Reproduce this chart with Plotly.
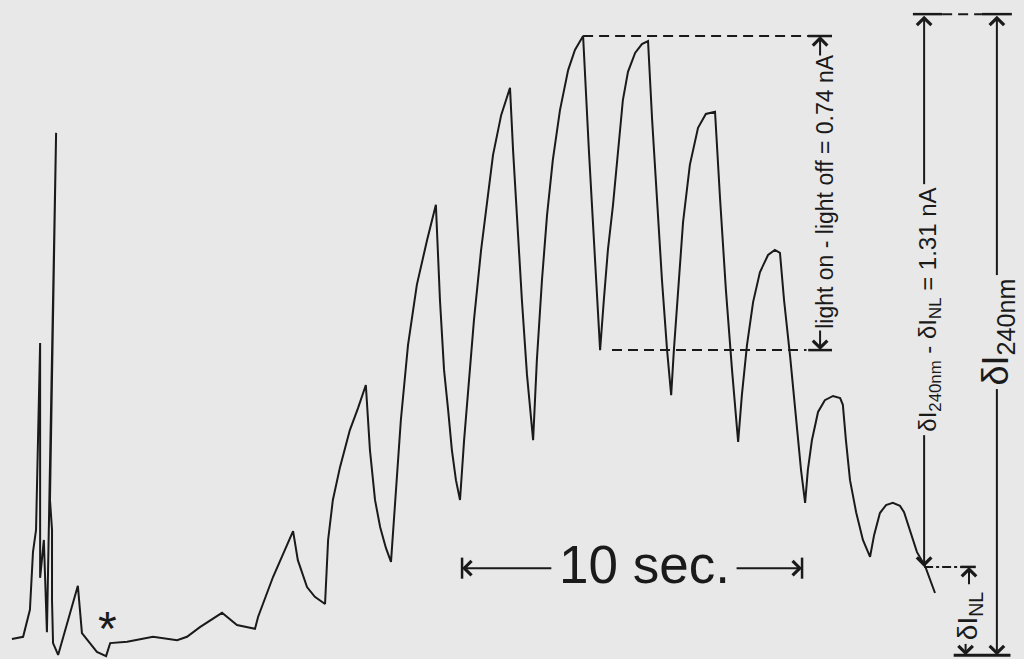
import plotly.graph_objects as go

# ---- trace: time (s) and current (nA) ----
time_s = [
    0.35, 0.68, 0.88, 0.97, 1.06, 1.18, 1.18, 1.29, 1.38, 1.65,
    1.47, 1.53, 1.53, 1.56, 1.71, 2.29, 2.41, 2.85, 3.12, 3.24,
    3.74, 4.50, 5.21, 5.50, 5.88, 6.53, 6.97, 7.50, 7.59, 8.03,
    8.62, 8.76, 9.03, 9.26, 9.56, 9.65, 9.79, 10.00, 10.29, 10.53,
    10.76, 10.88, 11.03, 11.18, 11.35, 11.50, 11.65, 11.79, 12.00, 12.26,
    12.56, 12.82, 12.94, 13.06, 13.18, 13.29, 13.41, 13.53, 13.65, 13.76,
    13.94, 14.15, 14.50, 14.74, 15.00, 15.09, 15.21, 15.35, 15.50, 15.68,
    15.79, 15.94, 16.09, 16.26, 16.47, 16.71, 16.91, 17.15, 17.32, 17.50,
    17.65, 17.76, 17.88, 18.03, 18.18, 18.32, 18.47, 18.68, 18.88, 19.06,
    19.18, 19.32, 19.47, 19.62, 19.74, 19.82, 19.94, 20.09, 20.29, 20.53,
    20.76, 21.03, 21.18, 21.35, 21.53, 21.71, 21.82, 21.97, 22.15, 22.35,
    22.59, 22.79, 22.94, 23.06, 23.24, 23.41, 23.56, 23.68, 23.76, 23.88,
    24.06, 24.26, 24.50, 24.71, 24.79, 24.88, 25.00, 25.18, 25.38, 25.59,
    25.71, 25.88, 26.06, 26.26, 26.47, 26.59, 26.76, 26.97, 27.21, 27.50,
]
current_nA = [
    0.043, 0.048, 0.112, 0.249, 0.302, 0.746, 0.188, 0.278, 0.059, 1.245,
    0.373, 0.302, 0.135, 0.033, 0.005, 0.169, 0.057, 0.012, 0.002, 0.033,
    0.036, 0.048, 0.040, 0.048, 0.071, 0.105, 0.076, 0.067, 0.095, 0.190,
    0.299, 0.230, 0.166, 0.143, 0.126, 0.278, 0.373, 0.451, 0.539, 0.591,
    0.646, 0.492, 0.373, 0.309, 0.259, 0.226, 0.397, 0.563, 0.741, 0.884,
    0.990, 1.074, 0.848, 0.682, 0.587, 0.492, 0.420, 0.373, 0.515, 0.622,
    0.800, 0.967, 1.192, 1.287, 1.352, 1.204, 1.038, 0.848, 0.670, 0.515,
    0.705, 0.895, 1.050, 1.181, 1.299, 1.394, 1.442, 1.475, 1.204, 0.943,
    0.729, 0.848, 0.967, 1.074, 1.204, 1.323, 1.390, 1.435, 1.456, 1.463,
    1.276, 1.086, 0.895, 0.729, 0.622, 0.729, 0.872, 1.033, 1.169, 1.257,
    1.290, 1.295, 1.086, 0.872, 0.682, 0.511, 0.622, 0.741, 0.843, 0.914,
    0.955, 0.967, 0.960, 0.848, 0.713, 0.563, 0.444, 0.366, 0.444, 0.515,
    0.582, 0.610, 0.620, 0.615, 0.599, 0.515, 0.420, 0.344, 0.278, 0.238,
    0.290, 0.342, 0.361, 0.366, 0.359, 0.344, 0.302, 0.249, 0.216, 0.152,
]

# ---- annotation levels / positions (data units) ----
I_light_on = 1.475      # highest light-on current
I_light_off = 0.729     # following light-off current
I_240_top = 1.527       # top of the delta-I 240nm bar
I_NL = 0.214            # end level (delta I_NL)
I_base = 0.0            # baseline
t_on_peak = 17.15
t_off_start = 18.0
t_col_a = 24.12         # "light on - light off" column
t_col_b = 27.18         # "dI240 - dINL" column
t_col_c = 28.50         # "dI_NL" column
t_col_d = 29.32         # "dI240nm" column
t_scale_start = 13.59
t_scale_end = 23.59
scale_label = "10 sec."

FONT = "Liberation Sans, Arial, Helvetica, sans-serif"
INK = "#1a1a1a"
BG = "#e8e8e8"

fig = go.Figure()
fig.add_trace(go.Scatter(x=time_s, y=current_nA, mode="lines",
                         line=dict(color=INK, width=2.0), hoverinfo="skip",
                         showlegend=False))

shapes = []
def hline(x0, x1, y, dash="solid", w=2):
    shapes.append(dict(type="line", xref="x", yref="y", x0=x0, x1=x1, y0=y, y1=y,
                       line=dict(color=INK, width=w, dash=dash)))
def vline(x, y0, y1, w=2):
    shapes.append(dict(type="line", xref="x", yref="y", x0=x, x1=x, y0=y0, y1=y1,
                       line=dict(color=INK, width=w)))

# dashed reference lines
hline(t_on_peak, t_col_a - 0.3, I_light_on, dash="10px,6px")
hline(t_off_start, t_col_a - 0.4, I_light_off, dash="10px,6px")
hline(t_col_a - 0.35, t_col_a + 0.35, I_light_on, w=2.5)
hline(t_col_a - 0.35, t_col_a + 0.35, I_light_off, w=2.5)
# top bars
hline(t_col_b - 0.33, t_col_b + 0.53, I_240_top, w=2.5)
hline(t_col_b + 0.53, t_col_d - 0.44, I_240_top, dash="10px,6px")
hline(t_col_d - 0.44, t_col_d + 0.44, I_240_top, w=2.5)
# dash-dot to the delta-I_NL column
hline(t_col_b, t_col_c - 0.12, I_NL, dash="dashdot")
hline(t_col_c - 0.25, t_col_c + 0.2, I_NL, w=2.5)
# bottom bar
hline(t_col_c - 0.45, t_col_d + 0.4, I_base + 0.004, w=3)
# scale bar end ticks
vline(t_scale_start, 0.186, 0.236, w=2.5)
vline(t_scale_end, 0.186, 0.236, w=2.5)

ann = []
def arrow(x, y, ax, ay, both=False, **kw):
    d = dict(x=x, y=y, ax=ax, ay=ay, axref="x", ayref="y", xref="x", yref="y",
             text="", showarrow=True, arrowhead=4, arrowsize=1.4, arrowwidth=2,
             arrowcolor=INK)
    if both:
        d.update(arrowside="end+start", startarrowhead=4, startarrowsize=1.4)
    d.update(kw)
    ann.append(d)

# light on/off arrows
arrow(t_col_a, I_light_on, t_col_a, I_light_on - 0.05)
arrow(t_col_a, I_light_off, t_col_a, I_light_off + 0.05)
# delta I240 - delta INL arrow
arrow(t_col_b, I_NL, t_col_b, I_240_top, both=True)
# delta I240 full arrow
arrow(t_col_d, I_base + 0.004, t_col_d, I_240_top, both=True)
# delta INL small arrows
arrow(t_col_c, I_NL, t_col_c, I_NL - 0.045)
arrow(t_col_c - 0.1, I_base + 0.004, t_col_c - 0.1, I_base + 0.035)
# scale bar arrows
arrow(t_scale_start, 0.211, 16.26, 0.211)
arrow(t_scale_end, 0.211, 21.62, 0.211)

def text(x, y, s, size, angle=0, bg=None, **kw):
    d = dict(x=x, y=y, xref="x", yref="y", text=s, showarrow=False,
             textangle=angle, font=dict(family=FONT, size=size, color=INK))
    if bg:
        d.update(bgcolor=bg, borderpad=3)
    d.update(kw)
    ann.append(d)

text(t_col_a + 0.14, (I_light_on + I_light_off) / 2 + 0.005,
     "light on - light off = 0.74 nA", 23, -90)
text(t_col_b + 0.16, 0.824, "δI<sub>240nm</sub> - δI<sub>NL</sub> = 1.31 nA", 24, -90, bg=BG)
text(t_col_d + 0.02, 0.772, "δI<sub>240nm</sub>", 36, -90, bg=BG)
text(t_col_c + 0.0, 0.097, "δI<sub>NL</sub>", 28, -90, bg=BG)
text(18.97, 0.219, scale_label, 53, bg=BG)
text(3.17, 0.083, "*", 48, yshift=-6)

fig.update_layout(
    width=1024, height=659,
    margin=dict(l=0, r=0, t=0, b=0),
    paper_bgcolor=BG, plot_bgcolor=BG,
    xaxis=dict(range=[0, 1024 / 34.0], visible=False, fixedrange=True),
    yaxis=dict(range=[-2 / 421, 657 / 421], visible=False, fixedrange=True),
    shapes=shapes, annotations=ann,
)

fig.write_html("out.html", config={"displayModeBar": False},
               post_script="document.body.style.margin='0px';document.body.style.overflow='hidden';")
